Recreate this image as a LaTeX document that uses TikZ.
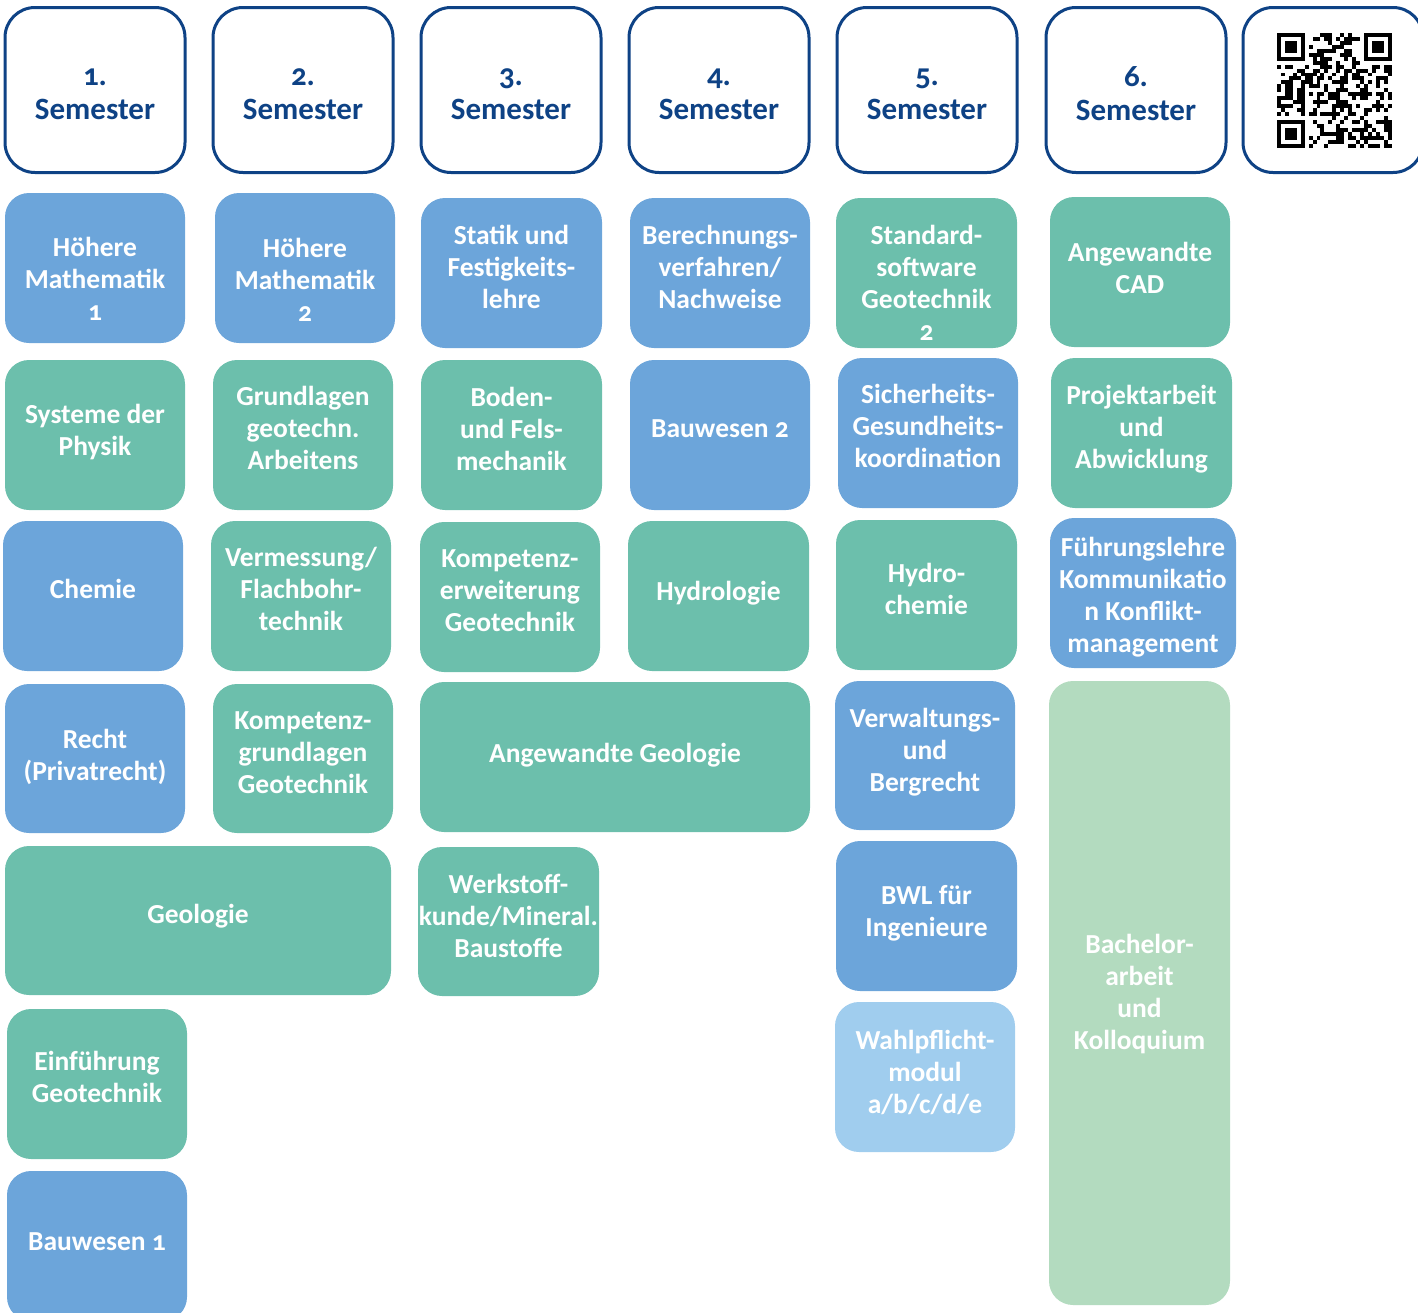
\documentclass[tikz,border=0pt]{standalone}
\usepackage{fontspec}
\setmainfont{Carlito}[Numbers=OldStyle]

\definecolor{semBlue}{HTML}{0E4285}
\definecolor{modBlue}{HTML}{6CA5DA}
\definecolor{modGreen}{HTML}{6CBFAC}
\definecolor{paleGreen}{HTML}{B3DBBF}
\definecolor{paleBlue}{HTML}{A0CDEE}

\tikzset{
  semester/.style={draw=semBlue, line width=3pt, fill=white, rounded corners=30pt,
    minimum width=180pt, minimum height=165pt, inner sep=0pt},
  semtext/.style={inner sep=0pt, align=center, text=semBlue,
    font=\fontsize{31}{34}\selectfont\bfseries},
  modul/.style={rounded corners=24pt, minimum width=180pt, minimum height=150pt,
    inner sep=0pt},
  modtext/.style={inner sep=0pt, align=center, text=white,
    font=\fontsize{27.5}{32}\selectfont\bfseries},
  blau/.style={modul, fill=modBlue},
  gruen/.style={modul, fill=modGreen},
  hellgruen/.style={modul, fill=paleGreen},
  hellblau/.style={modul, fill=paleBlue},
}

% [text shift]{style}{name}{position}{text}
\newcommand\modul[5][6]{%
  \node[#2] (#3) at (#4) {};
  \node[modtext] (#3txt) at ([yshift=#1pt]#3.center) {#5};}

\begin{document}
\begin{tikzpicture}[x=1pt,y=-1pt]
\useasboundingbox (0,0) rectangle (1418,1312);

% Semesterkoepfe
\foreach \s/\x in {1/95,2/303,3/511,4/719,5/927,6/1136} {
  \node[semester] (sem\s) at (\x,90) {};
  \node[semtext] (sem\s txt) at ([yshift=-4pt]sem\s.center) {\s.\\Semester};
}
\node[semester] (qrbox) at (1333,90) {};

% QR-Code
\def\qrN{29}
\def\qrM{3.95}
\pgfmathsetseed{4711}
\begin{scope}[shift={(1277,33)}]
  \foreach \i in {0,...,28} {
    \foreach \j in {0,...,28} {
      \pgfmathtruncatemacro\qrFrei{(\i<8 && \j<8) || (\i>20 && \j<8) || (\i<8 && \j>20)}
      \pgfmathtruncatemacro\qrPunkt{rnd<0.5}
      \ifnum\qrFrei=0 \ifnum\qrPunkt=1
        \fill (\i*\qrM,\j*\qrM) rectangle +(\qrM,\qrM);
      \fi\fi
    }
  }
  \foreach \fx/\fy in {0/0,22/0,0/22} {
    \fill (\fx*\qrM,\fy*\qrM) rectangle +(7*\qrM,7*\qrM);
    \fill[white] (\fx*\qrM+\qrM,\fy*\qrM+\qrM) rectangle +(5*\qrM,5*\qrM);
    \fill (\fx*\qrM+2*\qrM,\fy*\qrM+2*\qrM) rectangle +(3*\qrM,3*\qrM);
  }
\end{scope}

% 1. Semester
\modul[-11]{blau}{hm1}{95,268}{Höhere\\Mathematik\\1}
\modul[3]{gruen}{physik}{95,435}{Systeme der\\Physik}
\modul[7]{blau}{chemie}{93,596}{Chemie}
\modul[2]{blau, minimum height=149pt}{recht}{95,758.5}{Recht\\(Privatrecht)}
\modul[4]{gruen, minimum width=386pt, minimum height=149pt}{geologie}{198,920.5}{Geologie}
\modul[7]{gruen}{einfgeo}{97,1084}{Einführung\\Geotechnik}
\modul[4]{blau}{bau1}{97,1246}{Bauwesen 1}

% 2. Semester
\modul[-12]{blau}{hm2}{305,268}{Höhere\\Mathematik\\2}
\modul[7]{gruen}{grundgeo}{303,435}{Grundlagen\\geotechn.\\Arbeitens}
\modul[7]{gruen}{vermess}{301,596}{Vermessung/\\Flachbohr-\\technik}
\modul[6]{gruen, minimum height=149pt}{kompgrund}{303,758.5}{Kompetenz-\\grundlagen\\Geotechnik}

% 3. Semester
\modul{blau, minimum width=181pt}{statik}{511.5,273}{Statik und\\Festigkeits-\\lehre}
\modul{gruen, minimum width=181pt}{bodenfels}{511.5,435}{Boden-\\und Fels-\\mechanik}
\modul{gruen}{komperw}{510,597}{Kompetenz-\\erweiterung\\Geotechnik}
\modul[2]{gruen, minimum width=390pt}{angeo}{615,757}{Angewandte Geologie}
\modul{gruen, minimum width=181pt, minimum height=149pt}{werkstoff}{508.5,921.5}{Werkstoff-\\kunde/Mineral.\\Baustoffe}

% 4. Semester
\modul{blau}{berechnung}{720,273}{Berechnungs-\\verfahren/\\Nachweise}
\modul{blau}{bau2}{720,435}{Bauwesen 2}
\modul[3]{gruen, minimum width=181pt}{hydrologie}{718.5,596}{Hydrologie}

% 5. Semester
\modul[-10]{gruen, minimum width=181pt}{stdsoft}{926.5,273}{Standard-\\software\\Geotechnik\\2}
\modul[7]{blau}{sigeko}{928,433}{Sicherheits-\\Gesundheits-\\koordination}
\modul{gruen, minimum width=181pt}{hydrochemie}{926.5,595}{Hydro-\\chemie}
\modul[3]{blau, minimum height=149pt}{verwaltung}{925,755.5}{Verwaltungs-\\und\\Bergrecht}
\modul[3]{blau, minimum width=181pt}{bwl}{926.5,916}{BWL für\\Ingenieure}
\modul[5]{hellblau}{wahlpflicht}{925,1077}{Wahlpflicht-\\modul\\a/b/c/d/e}

% 6. Semester
\modul[4]{gruen}{cad}{1140,272}{Angewandte\\CAD}
\modul[4]{gruen, minimum width=181pt}{projekt}{1141.5,433}{Projektarbeit\\und\\Abwicklung}
\modul[-4]{blau, minimum width=186pt}{fuehrung}{1143,593}{Führungslehre\\Kommunikatio\\n Konflikt-\\management}
\modul[-1]{hellgruen, minimum width=181pt, minimum height=624pt}{bachelor}{1139.5,993}{Bachelor-\\arbeit\\und\\Kolloquium}
\end{tikzpicture}
\end{document}
